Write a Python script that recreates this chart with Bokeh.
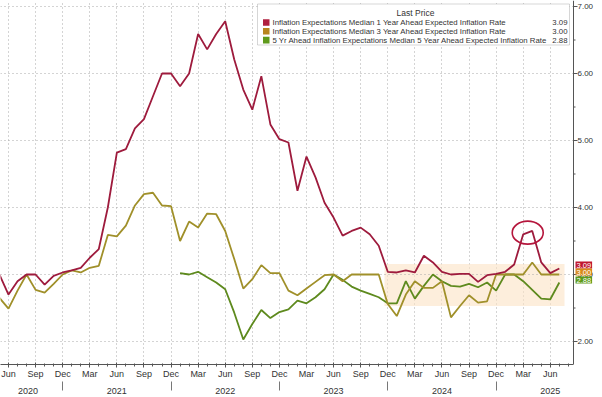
from bokeh.plotting import figure
from bokeh.models import (Range1d, FixedTicker, BoxAnnotation, Label, LinearAxis, Span)
from bokeh.embed import file_html
from bokeh.resources import INLINE

FONT = "Liberation Sans"

MONTHS = ["Jan", "Feb", "Mar", "Apr", "May", "Jun", "Jul", "Aug", "Sep", "Oct", "Nov", "Dec"]
# month index: 0 = Jun 2020
first_month = -2          # Apr 2020
five_year_first = 19      # Jan 2022

one_year = [2.6, 3.0, 2.7, 2.9, 3.0, 3.0, 2.85, 2.98, 3.03,
            3.06, 3.1, 3.25, 3.38, 4.0, 4.82, 4.87, 5.18, 5.32, 5.66, 6.0, 6.0,
            5.81, 6.0, 6.59, 6.36, 6.59, 6.78, 6.21, 5.76, 5.46, 5.96, 5.24, 5.02,
            4.97, 4.25, 4.76, 4.45, 4.07, 3.85, 3.58, 3.65, 3.70, 3.6, 3.43, 3.04,
            3.03, 3.06, 3.03, 3.28, 3.18, 3.04, 3.0, 3.01, 3.01, 2.89, 2.99, 3.01,
            3.04, 3.15, 3.6, 3.65, 3.18, 3.02, 3.09]
three_year = [2.66, 2.65, 2.49, 2.76, 3.0, 2.77, 2.73, 2.86, 3.0,
              3.06, 3.03, 3.1, 3.13, 3.59, 3.57, 3.73, 4.03, 4.2, 4.22, 4.03, 4.02,
              3.5, 3.79, 3.70, 3.91, 3.90, 3.65, 3.23, 2.79, 2.93, 3.14, 3.02, 3.02,
              2.76, 2.69, 2.79, 2.89, 2.99, 3.0, 2.9, 3.0, 3.0, 3.0, 3.0, 2.56,
              2.38, 2.7, 2.9, 2.8, 2.8, 2.9, 2.36, 2.53, 2.69, 2.58, 2.6, 3.0,
              3.0, 3.0, 3.0, 3.18, 3.0, 3.0, 3.0]
five_year = [3.02, 3.0, 3.04, 2.96, 2.88, 2.78, 2.43, 2.03, 2.26, 2.47, 2.35, 2.44,
             2.48, 2.61, 2.57, 2.66, 2.78, 3.0, 2.92, 2.82, 2.76, 2.71, 2.66, 2.57,
             2.57, 2.9, 2.64, 2.83, 3.0, 2.9, 2.83, 2.82, 2.86, 2.81, 2.88, 2.76,
             3.0, 3.0, 2.9, 2.77, 2.64, 2.63, 2.88]

series_names = ["Inflation Expectations Median 1 Year Ahead Expected Inflation Rate",
                "Inflation Expectations Median 3 Year Ahead Expected Inflation Rate",
                "5 Yr Ahead Inflation Expectations Median 5 Year Ahead Expected Inflation Rate"]
line_colors = ["#9e1b3d", "#a0902a", "#5e8a1e"]
swatch_colors = ["#b0203f", "#b8861f", "#5f9a1c"]
year_labels = ["2020", "2021", "2022", "2023", "2024", "2025"]
y_ticks = [2, 3, 4, 5, 6, 7]

x1 = list(range(first_month, first_month + len(one_year)))
x3 = list(range(first_month, first_month + len(three_year)))
x5 = list(range(five_year_first, five_year_first + len(five_year)))

# reference-pixel helpers (layout only)
PX_PER_MONTH = 9.03
def fx(px):
    return (px - 16) / PX_PER_MONTH
def fy(py):
    return 7 - (py - 14) / 67.0

FRAME_H = 364
AXIS_X = fx(581)
p = figure(frame_width=594, frame_height=FRAME_H,
           x_range=Range1d(fx(8), fx(602)), y_range=Range1d(fy(8 + FRAME_H), fy(8)),
           output_backend="svg", toolbar_location=None,
           min_border_left=0, min_border_right=0, min_border_top=0, min_border_bottom=0,
           outline_line_color=None, background_fill_color="white")
p.yaxis.visible = False

# x axis: months
month_ticks = list(range(0, 61, 3))
xa = p.xaxis[0]
xa.bounds = (fx(8), AXIS_X)
xa.ticker = FixedTicker(ticks=month_ticks, minor_ticks=list(range(-1, 63)))
xa.major_label_overrides = {t: MONTHS[(5 + t) % 12] for t in month_ticks}
xa.major_label_text_font = FONT
xa.major_label_text_font_size = "9px"
xa.major_label_text_color = "#333333"
xa.major_label_standoff = 1
xa.axis_line_color = "#555555"
xa.major_tick_line_color = "#555555"
xa.minor_tick_line_color = "#555555"
xa.major_tick_in = 2
xa.major_tick_out = 3
xa.minor_tick_in = 1
xa.minor_tick_out = 2

# x axis: years with separators
year_pos = [fx(35.5)] + [12 * k for k in range(1, len(year_labels))]
year_sep = [6 + 12 * k for k in range(len(year_labels) - 1)]
ya = LinearAxis(ticker=FixedTicker(ticks=year_pos, minor_ticks=year_sep),
                major_label_overrides={xp: yl for xp, yl in zip(year_pos, year_labels)},
                major_label_text_font=FONT, major_label_text_font_size="9px",
                major_label_text_color="#333333", major_label_standoff=-3,
                axis_line_color=None, major_tick_in=0, major_tick_out=0,
                minor_tick_in=0, minor_tick_out=9, minor_tick_line_color="#777777")
p.add_layout(ya, "below")

# grids
p.xgrid.ticker = FixedTicker(ticks=month_ticks)
p.xgrid.grid_line_color = "#a8a8a8"
p.xgrid.grid_line_dash = "1 3"
p.ygrid.visible = False
p.segment(x0=[fx(8)] * len(y_ticks), x1=[AXIS_X] * len(y_ticks), y0=y_ticks, y1=y_ticks,
          line_color="#a8a8a8", line_dash="1 3", line_width=1)

# manual right axis
p.add_layout(Span(location=AXIS_X, dimension="height", line_color="#555555", line_width=1))
minor_y = [t + 0.5 for t in y_ticks[:-1]]
p.segment(x0=[AXIS_X] * len(y_ticks), x1=[fx(585)] * len(y_ticks), y0=y_ticks, y1=y_ticks,
          line_color="#555555", line_width=1)
p.segment(x0=[AXIS_X] * len(minor_y), x1=[fx(583)] * len(minor_y), y0=minor_y, y1=minor_y,
          line_color="#555555", line_width=1)
for t in y_ticks:
    p.add_layout(Label(x=fx(585), y=t, text=f"{t:.2f}", text_align="left", text_baseline="middle",
                       text_font=FONT, text_font_size="8px", text_color="#333333"))

# highlight box
p.add_layout(BoxAnnotation(left=fx(392), right=fx(572), top=fy(271.5), bottom=fy(313.5),
                           fill_color="#fbe2c4", fill_alpha=0.6, line_color=None,
                           level="underlay"))

# lines
p.line(x5, five_year, line_color=line_colors[2], line_width=1.8)
p.line(x3, three_year, line_color=line_colors[1], line_width=1.8)
p.line(x1, one_year, line_color=line_colors[0], line_width=1.8)

# circle around Mar/Apr 2025 peak
peak_i = one_year.index(max(one_year[-8:]), len(one_year) - 8)
cx = (x1[peak_i - 1] + x1[peak_i]) / 2
cy = (one_year[peak_i - 1] + one_year[peak_i]) / 2
p.ellipse(x=[cx], y=[cy], width=31, height=23, width_units="screen", height_units="screen",
          fill_color=None, line_color="#b5163c", line_width=1.6)

# legend
p.add_layout(BoxAnnotation(left=fx(265), right=fx(577), top=fy(11.5), bottom=fy(52.5),
                           fill_color="white", fill_alpha=1.0, line_color="#777777",
                           line_width=1, level="overlay"))
p.add_layout(Label(x=fx(423), y=fy(20.5), text="Last Price", text_align="center",
                   text_baseline="middle", text_font=FONT, text_font_size="8.5px",
                   text_color="#333333", level="overlay"))
last_vals = [one_year[-1], three_year[-1], five_year[-1]]
rows_py = [30, 38.8, 47.6]
for name, col, val, py in zip(series_names, swatch_colors, last_vals, rows_py):
    p.add_layout(BoxAnnotation(left=fx(270.5), right=fx(277), top=fy(py - 3.3), bottom=fy(py + 3.3),
                               fill_color=col, fill_alpha=1.0, line_color=None, level="overlay"))
    p.add_layout(Label(x=fx(280), y=fy(py), text=name, text_align="left", text_baseline="middle",
                       text_font=FONT, text_font_size="7.8px", text_color="#333333",
                       level="overlay"))
    p.add_layout(Label(x=fx(575), y=fy(py), text=f"{val:.2f}", text_align="right",
                       text_baseline="middle", text_font=FONT, text_font_size="7.8px",
                       text_color="#333333", level="overlay"))

# last value tags on the right axis
tag_py = [272.5, 279.5, 287.5]
tag_colors = ["#c0182f", "#d88a1a", "#5e9a1a"]
for val, col, py in zip(last_vals, tag_colors, tag_py):
    p.add_layout(Label(x=fx(583), y=fy(py), text=f"{val:.2f}", text_align="left",
                       text_baseline="middle", text_font=FONT, text_font_size="7.5px",
                       text_color="white", background_fill_color=col, background_fill_alpha=1.0,
                       padding=1, level="overlay"))

open("out.html", "w").write(file_html(p, INLINE))
